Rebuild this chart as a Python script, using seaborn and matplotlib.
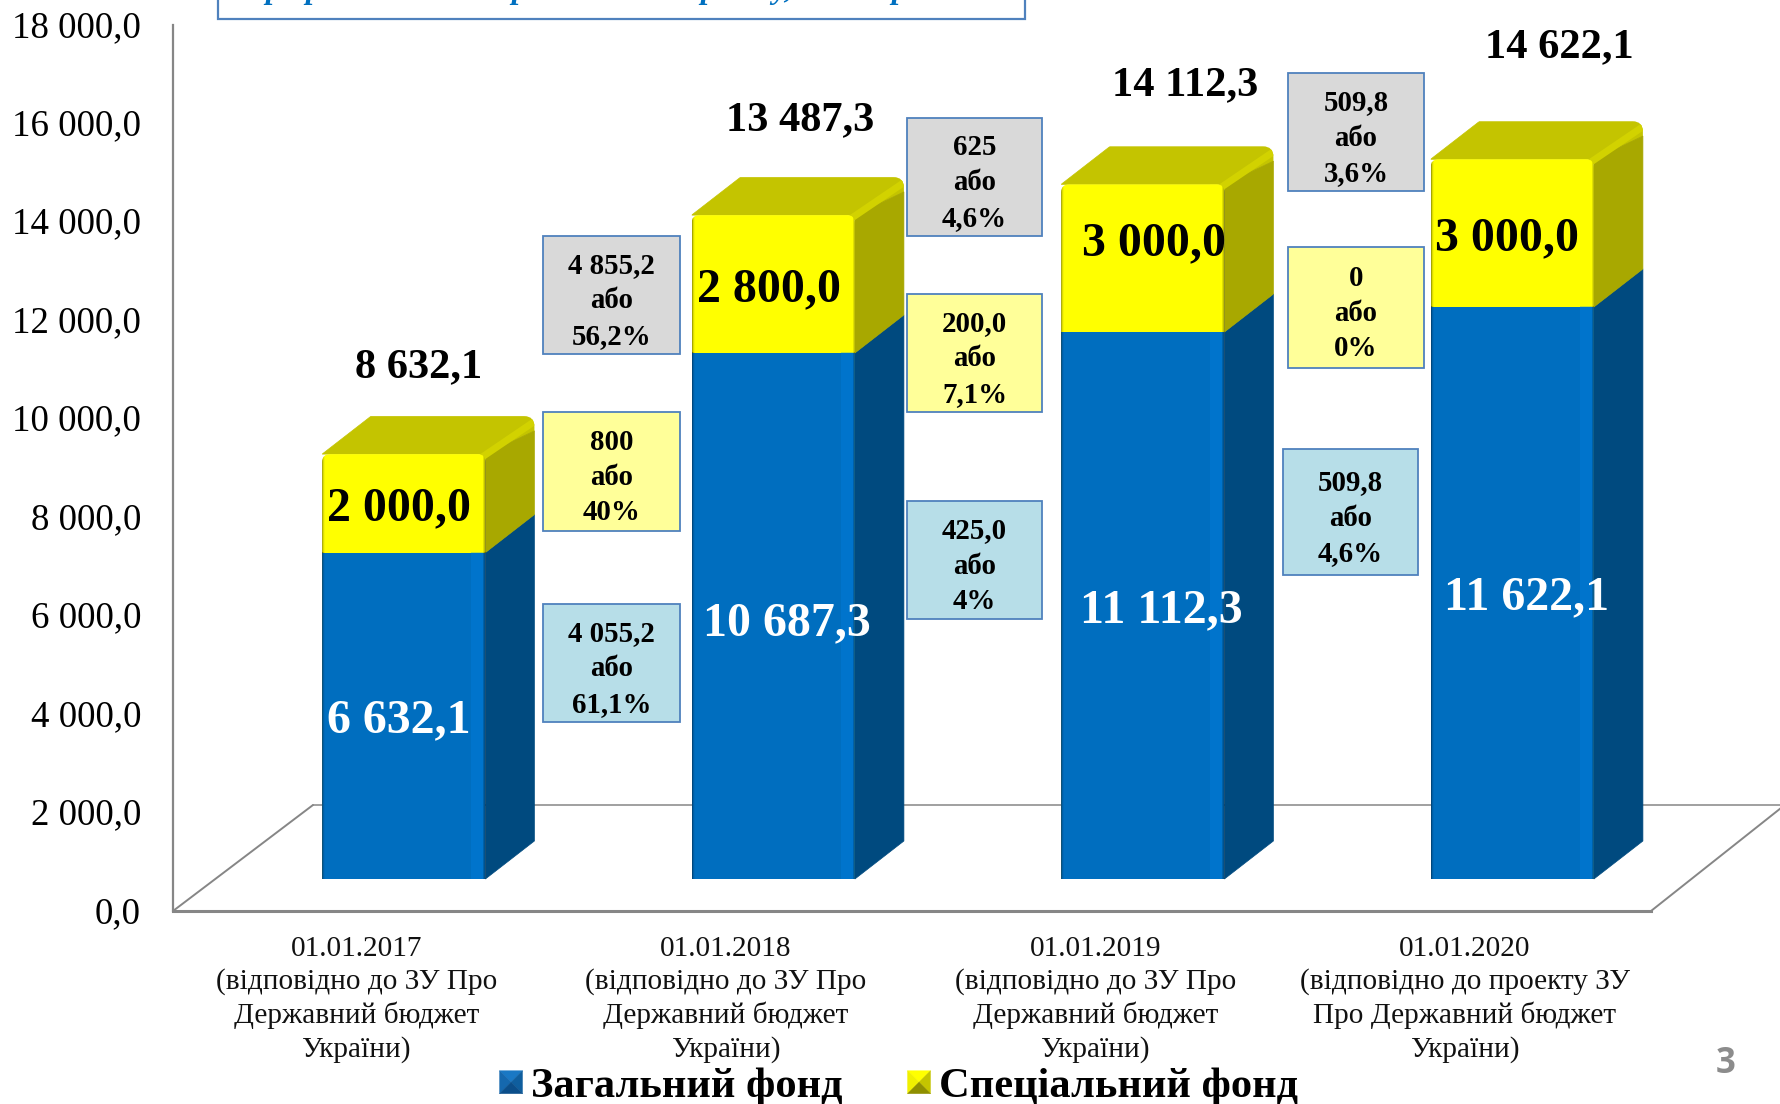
import numpy as np
import pandas as pd
import matplotlib
matplotlib.use('Agg')
import matplotlib.pyplot as plt
import seaborn as sns
from matplotlib.patches import FancyBboxPatch, Polygon, Rectangle
from matplotlib.transforms import Affine2D
from matplotlib.legend_handler import HandlerBase

W, H = 1781, 1104

# data
dates = ['01.01.2017', '01.01.2018', '01.01.2019', '01.01.2020']
basis = ['(відповідно до ЗУ Про\nДержавний бюджет\nУкраїни)',
         '(відповідно до ЗУ Про\nДержавний бюджет\nУкраїни)',
         '(відповідно до ЗУ Про\nДержавний бюджет\nУкраїни)',
         '(відповідно до проекту ЗУ\nПро Державний бюджет\nУкраїни)']
general_fund = [6632.1, 10687.3, 11112.3, 11622.1]
special_fund = [2000.0, 2800.0, 3000.0, 3000.0]
totals = [8632.1, 13487.3, 14112.3, 14622.1]
general_labels = ['6 632,1', '10 687,3', '11 112,3', '11 622,1']
special_labels = ['2 000,0', '2 800,0', '3 000,0', '3 000,0']
total_labels = ['8 632,1', '13 487,3', '14 112,3', '14 622,1']
y_ticks = list(range(0, 18001, 2000))
y_tick_labels = ['0,0', '2 000,0', '4 000,0', '6 000,0', '8 000,0', '10 000,0',
                 '12 000,0', '14 000,0', '16 000,0', '18 000,0']
series_names = ['Загальний фонд', 'Спеціальний фонд']

grey_boxes = ['4 855,2\nабо\n56,2%', '625\nабо\n4,6%', '509,8\nабо\n3,6%']
yellow_boxes = ['800\nабо\n40%', '200,0\nабо\n7,1%', '0\nабо\n0%']
blue_boxes = ['4 055,2\nабо\n61,1%', '425,0\nабо\n4%', '509,8\nабо\n4,6%']

# layout, in pixels of the picture
ax_left, ax_right, ax_top, ax_bottom = 173, 1651, 25, 911
grey_rects = [(543, 236, 137, 118), (907, 118, 135, 118), (1288, 73, 136, 118)]
yellow_rects = [(543, 412, 137, 119), (907, 294, 135, 118), (1288, 247, 136, 121)]
blue_rects = [(543, 604, 137, 118), (907, 501, 135, 118), (1283, 449, 135, 126)]
general_xy = [(399, 720), (787, 623), (1161, 610), (1527, 597)]
special_xy = [(399, 508), (769, 289), (1154, 243), (1507, 238)]
total_xy = [(419, 367), (800, 120), (1185, 85), (1559, 47)]
title_bits = [('р', 273), ('р', 313), ('р', 519), ('р', 708), ('у,', 783), ('р', 899)]

BLUE, BLUE_SIDE = '#006EBF', '#004A7F'
YELLOW, YELLOW_SIDE, YELLOW_TOP = '#FFFF00', '#A8A800', '#C4C400'
GRID = '#868686'
BOX_EDGE = '#4F81BD'
SERIF = 'Liberation Serif'

sns.set_theme(style='white')
plt.rcParams['font.family'] = [SERIF, 'DejaVu Serif']

fig = plt.figure(figsize=(W / 100, H / 100), dpi=100, facecolor='white')
ax = fig.add_axes([ax_left / W, 1 - ax_bottom / H, (ax_right - ax_left) / W, (ax_bottom - ax_top) / H])
ax.set_facecolor('none')

# top-left pixel coordinates
pix = Affine2D().scale(1, -1).translate(0, H)

df = pd.DataFrame({'date': dates, 'general': general_fund, 'total': totals})
sns.barplot(data=df, x='date', y='total', color=YELLOW, saturation=1, width=0.442, ax=ax, zorder=3)
n_yellow = len(ax.patches)
sns.barplot(data=df, x='date', y='general', color=BLUE, saturation=1, width=0.442, ax=ax, zorder=3)
ax.set_xlim(-0.5, 3.5)
ax.set_ylim(0, 18000)

unit_x = (ax_right - ax_left) / 4
unit_y = (ax_bottom - ax_top) / 18000
shift = 46 / unit_x
base = 32 / unit_y
dx = 49 / unit_x
dy = 38 / unit_y
round_x = 8 / unit_x
aspect = unit_x / unit_y

patches = list(ax.patches)
for i, p in enumerate(patches):
    p.set_x(p.get_x() + shift)
    p.set_y(base)
    p.set_linewidth(0)

for i in range(len(totals)):
    bar = patches[i]
    x0, w = bar.get_x(), bar.get_width()
    x1 = x0 + w
    top = base + totals[i]
    mid = base + general_fund[i]

    # rounded only at the top: the clip box runs on below the bar foot
    clip = FancyBboxPatch((x0, base - 300), w, totals[i] + 300, boxstyle=f'round,pad=0,rounding_size={round_x}',
                          mutation_aspect=aspect, transform=ax.transData)
    bar.set_clip_path(clip)
    patches[i + n_yellow].set_clip_path(clip)

    # side and top faces of the bar
    ax.add_patch(Polygon([(x1, base), (x1 + dx, base + dy), (x1 + dx, mid + dy), (x1, mid)],
                         fc=BLUE_SIDE, ec=BLUE_SIDE, lw=0.5, zorder=2.5))
    ax.add_patch(Polygon([(x1, mid), (x1 + dx, mid + dy), (x1 + dx, top + dy - 300), (x1, top)],
                         fc=YELLOW_SIDE, ec=YELLOW_SIDE, lw=0.5, zorder=2.5))
    corner = FancyBboxPatch((x0, top - 700), w + dx, 700 + dy,
                            boxstyle=f'round,pad=0,rounding_size={round_x * 1.3}',
                            mutation_aspect=aspect, transform=ax.transData)
    roof = Polygon([(x0, top), (x0 + dx, top + dy), (x1 + dx, top + dy), (x1 + dx, top + dy - 300), (x1, top)],
                   fc=YELLOW_TOP, ec=YELLOW_TOP, lw=0.5, zorder=2.4)
    ax.add_patch(roof)
    roof.set_clip_path(corner)
    ridge, = ax.plot([x1 - dx * 0.15, x1 + dx], [top - dy * 0.15, top + dy - 110], color='#D2D200', lw=5, zorder=2.6,
                     solid_capstyle='butt')
    ridge.set_clip_path(corner)

    # shading across the front face, tinted with the colour of each part
    for lo, hi, glow in [(base, mid, (0.0, 0.5, 0.88)), (mid, top, (1.0, 1.0, 0.0))]:
        shade = np.zeros((1, 160, 4))
        shade[0, :3, 3] = [0.35, 0.14, 0.04]
        shade[0, 145:157, :3] = glow
        shade[0, 145:157, 3] = 0.4
        shade[0, 157:, 3] = [0.12, 0.25, 0.4]
        im = ax.imshow(shade, extent=[x0, x1, lo, hi], aspect='auto', zorder=3.5, interpolation='nearest')
        im.set_clip_path(clip)

ax.set_xlim(-0.5, 3.5)
ax.set_ylim(0, 18000)

# floor behind the bars
floor_lines = [([173, 313], [911, 805], 1.4), ([313, W], [805, 805], 1.1), ([1651, W], [911, 808], 1.4)]
for xs, ys, lw in floor_lines:
    ax.plot(xs, ys, color=GRID, lw=lw, transform=pix, clip_on=False, zorder=1)

sns.despine(ax=ax, top=True, right=True)
ax.spines['left'].set_color(GRID)
ax.spines['left'].set_linewidth(1.6)
ax.spines['bottom'].set_color(GRID)
ax.spines['bottom'].set_linewidth(2.2)
ax.set_xlabel('')
ax.set_ylabel('')
ax.set_yticks(y_ticks)
ax.set_yticklabels(y_tick_labels, fontsize=26.6, color='black')
ax.set_xticks(range(len(dates)))
ax.set_xticklabels([f'{d}\n{b}' for d, b in zip(dates, basis)], fontsize=21.1, color='#111111',
                   linespacing=1.31, ha='center', va='top')
ax.tick_params(axis='y', length=0, pad=23)
ax.tick_params(axis='x', length=0, pad=18)
up = Affine2D().translate(0, 1.5)
for lab in ax.get_yticklabels():
    lab.set_transform(lab.get_transform() + up)
left = Affine2D().translate(-1.5, 0)
for lab in ax.get_xticklabels():
    lab.set_transform(lab.get_transform() + left)

# value labels
for (x, y), s in zip(general_xy, general_labels):
    ax.text(x, y, s, transform=pix, ha='center', va='center', fontsize=34.5, fontweight='bold', color='white', zorder=5)
for (x, y), s in zip(special_xy, special_labels):
    ax.text(x, y, s, transform=pix, ha='center', va='center', fontsize=34.5, fontweight='bold', color='black', zorder=5)
for (x, y), s in zip(total_xy, total_labels):
    ax.text(x, y, s, transform=pix, ha='center', va='center', fontsize=30.5, fontweight='bold', color='black', zorder=5,
            clip_on=False)

# change boxes between the bars
for rects, texts, fill in [(grey_rects, grey_boxes, '#D9D9D9'),
                           (yellow_rects, yellow_boxes, '#FFFF99'),
                           (blue_rects, blue_boxes, '#B7DEE8')]:
    for (x, y, w, h), s in zip(rects, texts):
        ax.add_patch(Rectangle((x, y), w, h, transform=pix, fc=fill, ec=BOX_EDGE, lw=1.3, zorder=4, clip_on=False))
        ax.text(x + w / 2, y + h / 2 + 6, s, transform=pix, ha='center', va='center', fontsize=20.8,
                fontweight='bold', color='black', linespacing=1.39, zorder=5, clip_on=False)

# title frame, cut off by the top edge of the slide
ax.add_patch(Rectangle((218, -10), 807, 29, transform=pix, fc='white', ec=BOX_EDGE, lw=1.6, zorder=4, clip_on=False))
for s, x in title_bits:
    ax.text(x, -2, s, transform=pix, ha='center', va='baseline', fontsize=23, fontweight='bold', style='italic',
            color='#0070C0', zorder=5, clip_on=False)


class Bevel(HandlerBase):
    def __init__(self, top, left, right, bottom):
        super().__init__()
        self.cols = top, left, right, bottom

    def create_artists(self, legend, orig, xd, yd, width, height, fontsize, trans):
        x0, y0 = -xd, -yd + (height - width) / 2
        s = width
        c = (x0 + s / 2, y0 + s / 2)
        a, b, d, e = (x0, y0), (x0 + s, y0), (x0 + s, y0 + s), (x0, y0 + s)
        tris = [[e, d, c], [a, e, c], [b, d, c], [a, b, c]]
        return [Polygon(pts, fc=col, ec=col, lw=0.3, transform=trans) for pts, col in zip(tris, self.cols)]


h_blue = Rectangle((0, 0), 1, 1, label=series_names[0])
h_yellow = Rectangle((0, 0), 1, 1, label=series_names[1])
leg = fig.legend(handles=[h_blue, h_yellow], loc='center', bbox_to_anchor=(899 / W, 1 - 1087 / H),
                 ncol=2, frameon=False, prop={'family': SERIF, 'weight': 'bold', 'size': 30.6},
                 labelcolor='black', handlelength=0.54, handleheight=0.54, handletextpad=0.21, columnspacing=1.52,
                 borderpad=0, borderaxespad=0,
                 handler_map={h_blue: Bevel('#1A78C4', '#1568AE', '#0F5E9E', '#0B4E8A'),
                              h_yellow: Bevel('#FFFF00', '#F0F000', '#C4C400', '#8F8F00')})

fig.text(1726 / W, 1 - 1064 / H, '3', ha='center', va='center', fontsize=25, fontweight='bold',
         family='Open Sans', color='#8C8C8C')

fig.savefig('out.png', dpi=100, facecolor='white')
